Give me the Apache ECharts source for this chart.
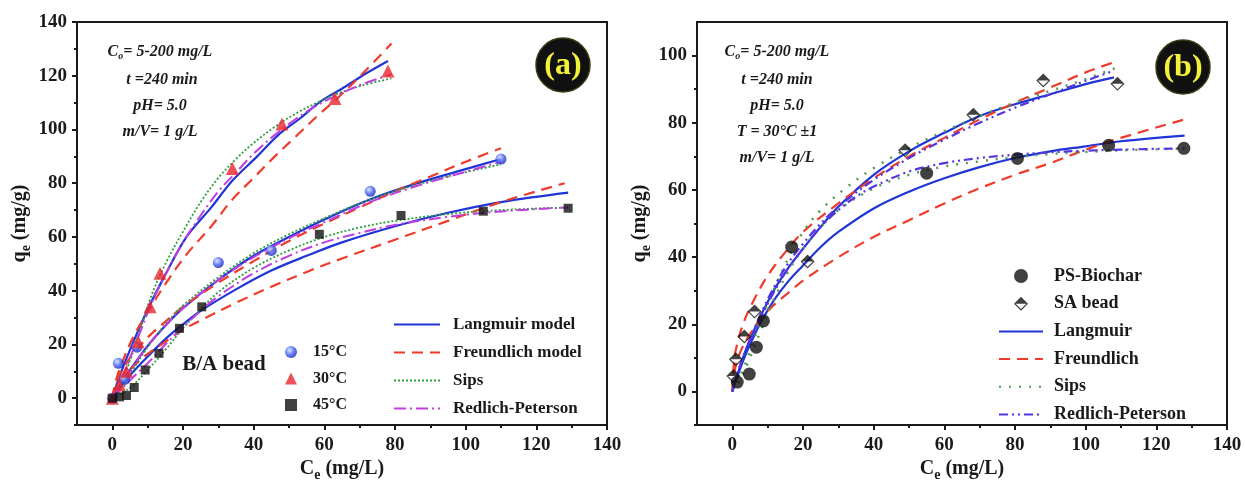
<!DOCTYPE html>
<html>
<head>
<meta charset="utf-8">
<script src="https://cdn.jsdelivr.net/npm/echarts@6/dist/echarts.min.js"></script>
<style>
  html, body { margin: 0; padding: 0; background: #fff; }
  #chart { width: 1245px; height: 487px; }
</style>
</head>
<body>
<div id="chart"></div>
<script>
// ---------- tick labels ----------
const xTicks = [0, 20, 40, 60, 80, 100, 120, 140];
const xMinor = [10, 30, 50, 70, 90, 110, 130];
const yTicksA = [0, 20, 40, 60, 80, 100, 120, 140];
const yMinorA = [-10, 10, 30, 50, 70, 90, 110, 130];
const yTicksB = [0, 20, 40, 60, 80, 100];
const yMinorB = [-10, 10, 30, 50, 70, 90];

// ---------- (a) B/A bead, measured points [Ce, qe] ----------
const pts15 = [[0, 0], [1.7, 13], [3.5, 7], [7, 19], [30, 50.5], [45, 55], [73, 77], [110, 89]];
const pts30 = [[0, 0], [2, 5], [4, 10], [7.3, 21], [10.7, 34], [13.5, 46.5], [34, 85.5], [48, 102], [63, 111.5], [78, 121.8]];
const pts45 = [[0, 0], [2, 0.5], [4, 1], [6.2, 4], [9.3, 10.5], [13.2, 16.7], [19, 26], [25.3, 34], [58.6, 61], [81.7, 68], [105, 69.6], [129, 70.7]];

// ---------- (a) model curves ----------
const lang30 = [[0, 0], [2, 8], [5, 18], [10, 33], [15, 46], [21, 60], [28, 71], [34, 81], [41, 90], [47, 98], [53, 104], [59, 110.5], [66, 116], [72, 121], [78, 125.5]];
const freu30 = [[0, 0], [1, 6.5], [3, 14], [6, 23], [10, 32], [15, 42.5], [21, 53.5], [28, 64], [34, 74], [40, 82], [46, 90], [52, 97.5], [58, 105], [64, 112], [71, 121], [79, 132]];
const sips30 = [[0, 0], [2, 4], [5, 14], [8, 26], [11, 38], [15, 50], [20, 62], [25, 73], [30, 82], [35, 89], [40, 95], [46, 101], [52, 106], [58, 110], [64, 113.5], [71, 116.5], [79, 119]];
const rp30 = [[0, 0], [2, 5], [5, 15], [8, 25], [11, 35], [15, 46], [20, 58], [25, 68], [30, 77], [35, 84], [40, 91], [46, 98], [52, 104], [58, 109], [64, 113], [71, 117], [79, 120.5]];

const lang15 = [[0, 0], [2, 4.5], [5, 10.5], [10, 19.5], [15, 27], [20, 33.5], [30, 44], [40, 53], [50, 60], [60, 66.5], [72, 73.5], [85, 79.5], [98, 84.5], [110, 89]];
const freu15 = [[0, 0], [1, 5.5], [2, 8.7], [5, 15], [10, 22.6], [15, 28.5], [20, 34], [30, 43], [40, 51], [50, 58.5], [60, 65], [70, 71], [80, 77], [90, 82.5], [100, 88], [110, 93]];
const sips15 = [[0, 0], [2, 3], [5, 9], [10, 19], [15, 27.5], [20, 34.5], [30, 45], [40, 54], [50, 61], [60, 67], [72, 73.5], [85, 79], [98, 83.5], [110, 87]];
const rp15 = [[0, 0], [2, 4], [5, 10], [10, 19.5], [15, 27], [20, 33.5], [30, 44], [40, 52.5], [50, 59.5], [60, 65.5], [72, 72.5], [85, 78.5], [98, 83.5], [110, 88]];

const lang45 = [[0, 0], [2, 3.5], [5, 8.5], [10, 15.5], [15, 22], [20, 27.5], [25, 32.5], [35, 40.5], [45, 47.5], [55, 53], [65, 58], [80, 64], [95, 69], [110, 73], [129, 76.5]];
const freu45 = [[0, 0], [1, 4.5], [3, 7.8], [6, 12], [10, 16.5], [15, 21], [20, 25.5], [25, 29], [35, 35.5], [45, 41.5], [55, 47], [65, 52], [80, 59], [95, 66], [110, 73], [128, 80]];
const sips45 = [[0, 0], [3, 2], [6, 5], [10, 10.5], [15, 18], [20, 26], [25, 33], [30, 39.5], [40, 48.5], [50, 55], [60, 60], [70, 63.5], [80, 66], [95, 68.5], [110, 70], [129, 71]];
const rp45 = [[0, 0], [3, 4], [6, 8], [10, 13], [15, 20], [20, 26.5], [25, 32.5], [30, 38], [40, 46.5], [50, 53], [60, 58], [70, 61.5], [80, 64.5], [95, 67.5], [110, 69.5], [129, 71]];

// ---------- (b) PS-Biochar and SA bead ----------
const ptsBiochar = [[1.4, 2.8], [4.8, 5.2], [6.8, 13.2], [8.8, 21], [16.8, 43], [55, 65], [80.7, 69.4], [106.5, 73.3], [127.8, 72.4]];
const ptsBead = [[0.3, 4.6], [1, 9.6], [3.4, 16.4], [6.3, 23.8], [21.3, 38.7], [48.9, 71.8], [68.2, 82.4], [88, 92.6], [109, 91.6]];

const langBead = [[0, 0], [1, 3.5], [3, 10], [5, 15.5], [8, 22.5], [12, 30.5], [16, 37], [20, 42.5], [25, 49], [30, 55], [40, 64.5], [50, 71.5], [60, 77], [70, 82], [80, 85.5], [90, 88.5], [100, 91.5], [108, 93.5]];
const freuBead = [[0, 0], [0.5, 9], [1, 12.5], [3, 20], [6, 27], [10, 34.5], [15, 41.5], [20, 47.5], [30, 56], [40, 63.5], [50, 70], [60, 75.5], [70, 81], [80, 86], [90, 90.5], [100, 95], [108, 98]];
const sipsBead = [[0, 0], [2, 4], [5, 12], [8, 21], [12, 31], [16, 40], [20, 47.5], [25, 54], [32, 60.5], [40, 66.5], [50, 72.5], [60, 77.5], [70, 82], [80, 86], [90, 89.5], [100, 93], [109, 96.5]];
const rpBead = [[0, 0], [1, 4], [3, 10], [5, 15.5], [8, 23], [12, 31.5], [16, 38.5], [20, 44], [25, 50], [30, 55], [40, 63], [50, 69.5], [60, 75], [70, 80], [80, 84.5], [90, 88.5], [100, 92.5], [108, 95.5]];

const langChar = [[0, 0], [1, 3.2], [3, 9], [5, 14], [8, 20.5], [12, 27.5], [16, 33], [20, 37.5], [25, 43], [30, 47.5], [40, 54.5], [50, 59.5], [60, 63.5], [70, 66.8], [80, 69.5], [90, 71.5], [100, 73], [110, 74.5], [128, 76.2]];
const freuChar = [[0, 0], [1, 7.9], [3, 13.5], [5, 17], [8, 21.5], [12, 26], [16, 29.5], [20, 33], [30, 40], [40, 46], [50, 51], [60, 56], [70, 60.5], [80, 64.5], [90, 68], [100, 72], [110, 75.5], [128, 81]];
const sipsChar = [[0, 0], [2, 3], [5, 10], [8, 18], [12, 28], [16, 36], [20, 42.5], [25, 49], [30, 54], [40, 60.5], [50, 64.5], [60, 67], [70, 68.5], [80, 69.8], [90, 70.7], [100, 71.3], [110, 71.8], [128, 72.3]];
const rpChar = [[0, 0], [1, 4], [3, 10], [5, 15], [8, 22], [12, 30], [16, 37], [20, 42.5], [25, 49], [30, 54], [35, 58], [40, 61], [50, 65.5], [60, 68], [70, 69.5], [80, 70.5], [90, 71.2], [100, 71.7], [110, 72], [128, 72.4]];

// ---------- styling ----------
const FONT = "'Liberation Serif', 'Times New Roman', serif";
const INK = '#1a1a1a';
const BLUE = '#1f35d8';
const RED = '#ef3b2c';

const styles = {
  lang: { color: BLUE, width: 2.2, type: 'solid' },
  freu: { color: RED, width: 2.2, type: [11, 7] },
  sipsA: { color: '#2e9e3e', width: 1.8, type: [2, 2] },
  rpA: { color: '#c03ee0', width: 2, type: [12, 4, 2, 4] },
  sipsB: { color: '#4e9a4e', width: 2.4, type: [2, 8] },
  rpB: { color: '#5535e0', width: 2.2, type: [9, 4, 2, 4, 2, 4] }
};

function curve(name, data, axis, style) {
  return {
    type: 'line', name: name, data: data,
    xAxisIndex: axis, yAxisIndex: axis,
    smooth: 0.35, symbol: 'none', z: 2,
    itemStyle: { color: style.color },
    lineStyle: style
  };
}
function points(name, data, axis, symbol, size, color) {
  return {
    type: 'scatter', name: name, data: data,
    xAxisIndex: axis, yAxisIndex: axis,
    symbol: symbol, symbolSize: size, z: 5,
    itemStyle: { color: color }
  };
}

// shaded ball for the 15 °C points
const ball = {
  type: 'radial', x: 0.38, y: 0.35, r: 0.75,
  colorStops: [{ offset: 0, color: '#cfe0ff' }, { offset: 0.55, color: '#3a55f0' }, { offset: 1, color: '#0c1a9a' }]
};
// half-filled diamond (dark upper half, open lower half)
const halfDiamond = 'path://M10,0 L20,10 L0,10 Z M0,10 L10,20 L20,10 L17.6,10 L10,17.6 L2.4,10 Z';

function mainX(gridIndex) {
  return {
    type: 'value', gridIndex: gridIndex, min: -10, max: 140, position: 'bottom',
    name: '{n|C}{s|e}{n| (mg/L)}', nameLocation: 'middle', nameGap: 30,
    nameTextStyle: {
      rich: {
        n: { fontFamily: FONT, fontWeight: 'bold', fontSize: 20, color: INK },
        s: { fontFamily: FONT, fontWeight: 'bold', fontSize: 14, color: INK, padding: [12, 0, 0, 0] }
      }
    },
    axisLine: { onZero: false, lineStyle: { color: INK, width: 2 } },
    axisTick: { customValues: xTicks, length: 5, lineStyle: { color: INK, width: 2 } },
    axisLabel: { customValues: xTicks, margin: 10, fontFamily: FONT, fontWeight: 'bold', fontSize: 19, color: INK },
    splitLine: { show: false }
  };
}
function minorX(gridIndex) {
  return {
    type: 'value', gridIndex: gridIndex, min: -10, max: 140, position: 'bottom',
    axisLine: { show: false, onZero: false },
    axisTick: { customValues: xMinor, length: 3, lineStyle: { color: INK, width: 2 } },
    axisLabel: { show: false },
    splitLine: { show: false }
  };
}
function mainY(gridIndex, max, ticks) {
  return {
    type: 'value', gridIndex: gridIndex, min: -10, max: max, position: 'left',
    name: '{n|q}{s|e}{n| (mg/g)}', nameLocation: 'middle', nameGap: 44, nameRotate: 90,
    nameTextStyle: {
      rich: {
        n: { fontFamily: FONT, fontWeight: 'bold', fontSize: 20, color: INK },
        s: { fontFamily: FONT, fontWeight: 'bold', fontSize: 14, color: INK, padding: [12, 0, 0, 0] }
      }
    },
    axisLine: { onZero: false, lineStyle: { color: INK, width: 2 } },
    axisTick: { customValues: ticks, length: 5, lineStyle: { color: INK, width: 2 } },
    axisLabel: { customValues: ticks, margin: 10, fontFamily: FONT, fontWeight: 'bold', fontSize: 19, color: INK },
    splitLine: { show: false }
  };
}
function minorY(gridIndex, max, ticks) {
  return {
    type: 'value', gridIndex: gridIndex, min: -10, max: max, position: 'left',
    axisLine: { show: false, onZero: false },
    axisTick: { customValues: ticks, length: 3, lineStyle: { color: INK, width: 2 } },
    axisLabel: { show: false },
    splitLine: { show: false }
  };
}

const legendText = { fontFamily: FONT, fontWeight: 'bold', color: INK };
// legend entry for a fitted curve: plain line sample, no marker
function lineEntry(name) {
  return { name: name, itemStyle: { opacity: 0 } };
}

function note(x, y, text) {
  return {
    type: 'text', x: x, y: y, z: 10,
    style: {
      text: text, align: 'center', verticalAlign: 'middle',
      fontFamily: FONT, fontStyle: 'italic', fontWeight: 'bold', fontSize: 16, fill: INK,
      rich: {
        i: { fontFamily: FONT, fontStyle: 'italic', fontWeight: 'bold', fontSize: 16, fill: INK },
        s: { fontFamily: FONT, fontStyle: 'italic', fontWeight: 'bold', fontSize: 10, fill: INK, padding: [9, 0, 0, 0] }
      }
    }
  };
}
function badge(cx, cy, label) {
  return [
    { type: 'circle', z: 10, shape: { cx: cx, cy: cy, r: 27 }, style: { fill: '#111', stroke: '#3a3a10', lineWidth: 1.5 } },
    { type: 'text', z: 11, x: cx, y: cy + 1, style: { text: label, align: 'center', verticalAlign: 'middle', fontFamily: FONT, fontWeight: 'bold', fontSize: 32, fill: '#f2f23a' } }
  ];
}

const option = {
  animation: false,
  backgroundColor: '#fff',
  grid: [
    { left: 77, top: 22, width: 530, height: 406, show: true, borderColor: INK, borderWidth: 2 },
    { left: 697, top: 22, width: 530, height: 406, show: true, borderColor: INK, borderWidth: 2 }
  ],
  xAxis: [mainX(0), mainX(1), minorX(0), minorX(1)],
  yAxis: [mainY(0, 140, yTicksA), mainY(1, 110, yTicksB), minorY(0, 140, yMinorA), minorY(1, 110, yMinorB)],
  legend: [
    {
      data: ['15°C', '30°C', '45°C'], orient: 'vertical', left: 280, top: 339,
      itemWidth: 12, itemHeight: 12, itemGap: 10.5, selectedMode: false,
      textStyle: Object.assign({ fontSize: 16, padding: [0, 0, 0, 11] }, legendText)
    },
    {
      data: ['Langmuir model', 'Freundlich model', 'Sips', 'Redlich-Peterson'].map(lineEntry),
      orient: 'vertical', left: 388, top: 311,
      itemWidth: 46, itemHeight: 14, itemGap: 11, selectedMode: false,
      textStyle: Object.assign({ fontSize: 17, padding: [0, 0, 0, 8] }, legendText)
    },
    {
      data: ['PS-Biochar', 'SA bead'].concat(['Langmuir', 'Freundlich', 'Sips (b)', 'Redlich-Peterson (b)'].map(lineEntry)),
      orient: 'vertical', left: 993, top: 262,
      itemWidth: 44, itemHeight: 14, itemGap: 9.7, selectedMode: false,
      formatter: function (name) { return name.replace(' (b)', ''); },
      textStyle: Object.assign({ fontSize: 18, padding: [0, 0, 0, 6] }, legendText)
    }
  ],
  graphic: [
    note(160, 52, '{i|C}{s|o}{i|= 5-200 mg/L}'),
    note(162, 80, 't =240 min'),
    note(160, 106, 'pH= 5.0'),
    note(160, 132, 'm/V= 1 g/L'),
    note(777, 52, '{i|C}{s|o}{i|= 5-200 mg/L}'),
    note(777, 80, 't =240 min'),
    note(777, 106, 'pH= 5.0'),
    note(777, 132, 'T = 30°C ±1'),
    note(777, 158, 'm/V= 1 g/L'),
    {
      type: 'text', x: 224, y: 365, z: 10,
      style: { text: 'B/A bead', align: 'center', verticalAlign: 'middle', fontFamily: FONT, fontWeight: 'bold', fontSize: 21, fill: INK }
    }
  ].concat(badge(563, 65, '(a)'), badge(1183, 67, '(b)')),
  series: [
    curve('Langmuir model', lang30, 0, styles.lang),
    curve('Langmuir model', lang15, 0, styles.lang),
    curve('Langmuir model', lang45, 0, styles.lang),
    curve('Freundlich model', freu30, 0, styles.freu),
    curve('Freundlich model', freu15, 0, styles.freu),
    curve('Freundlich model', freu45, 0, styles.freu),
    curve('Sips', sips30, 0, styles.sipsA),
    curve('Sips', sips15, 0, styles.sipsA),
    curve('Sips', sips45, 0, styles.sipsA),
    curve('Redlich-Peterson', rp30, 0, styles.rpA),
    curve('Redlich-Peterson', rp15, 0, styles.rpA),
    curve('Redlich-Peterson', rp45, 0, styles.rpA),
    points('15°C', pts15, 0, 'circle', 11, ball),
    points('30°C', pts30, 0, 'triangle', 13, '#e8262a'),
    points('45°C', pts45, 0, 'rect', 9, '#111'),

    curve('Langmuir', langBead, 1, styles.lang),
    curve('Langmuir', langChar, 1, styles.lang),
    curve('Freundlich', freuBead, 1, styles.freu),
    curve('Freundlich', freuChar, 1, styles.freu),
    curve('Sips (b)', sipsBead, 1, styles.sipsB),
    curve('Sips (b)', sipsChar, 1, styles.sipsB),
    curve('Redlich-Peterson (b)', rpBead, 1, styles.rpB),
    curve('Redlich-Peterson (b)', rpChar, 1, styles.rpB),
    points('PS-Biochar', ptsBiochar, 1, 'circle', 13, '#111'),
    points('SA bead', ptsBead, 1, halfDiamond, 14, '#111')
  ]
};

const chart = echarts.init(document.getElementById('chart'), null, { renderer: 'canvas' });
chart.setOption(option);
</script>
</body>
</html>
